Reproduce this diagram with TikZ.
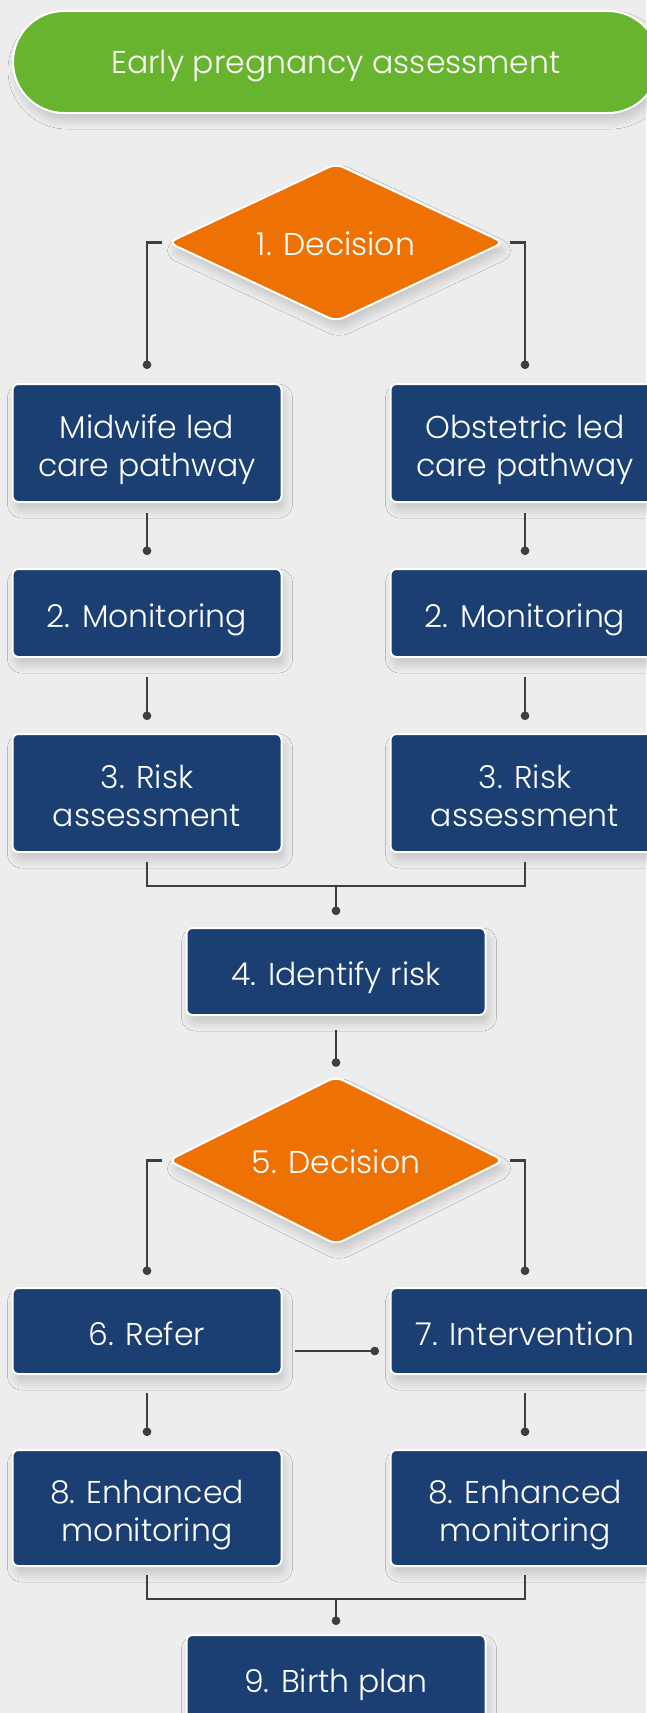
\documentclass[tikz,border=0pt]{standalone}
\usepackage{fontspec}
\IfFontExistsTF{Poppins Light}{\setmainfont{Poppins Light}}{\setmainfont{Poppins}}
\usetikzlibrary{shapes.geometric,arrows.meta,shadows.blur}
\definecolor{bg}{RGB}{237,237,237}
\definecolor{pgreen}{RGB}{104,180,47}
\definecolor{porange}{RGB}{238,114,3}
\definecolor{pblue}{RGB}{28,63,115}
\definecolor{pline}{RGB}{62,62,62}
\newcommand\tx[2][-13pt]{\smash{\raisebox{#1}{\begin{tabular}{@{}c@{}}#2\end{tabular}}}}
\newcommand\dtx[1]{\smash{\raisebox{-13pt}{#1}}}
\begin{document}
\begin{tikzpicture}[x=1pt,y=-1pt,
  every node/.style={font=\fontsize{31.5}{38}\selectfont, text=white, align=center},
  softshadow/.style={blur shadow={shadow xshift=3pt, shadow yshift=-8pt, shadow blur radius=8pt, shadow blur steps=10, shadow opacity=16}},
  box/.style={rectangle, draw=white, line width=2pt, fill=pblue, rounded corners=6pt, minimum width=269pt, inner sep=0pt, softshadow},
  midbox/.style={box, minimum width=299pt},
  dec/.style={diamond, draw=white, line width=2pt, fill=porange, rounded corners=8pt, minimum width=336pt, minimum height=154pt, inner sep=0pt, softshadow},
  pill/.style={rectangle, draw=white, line width=2pt, fill=pgreen, rounded corners=51pt, minimum width=646pt, minimum height=102pt, softshadow},
  conn/.style={draw=pline, line width=2.8pt},
  dot/.style={-{Circle[length=8.5pt,width=8.5pt]}}
]
\fill[bg] (0,0) rectangle (646,1713);
\useasboundingbox (0,0) rectangle (646,1713);

% nodes
\node[pill] (start) at (336,62) {\tx[-10pt]{Early pregnancy assessment}};
\node[dec] (d1) at (336,242.5) {\dtx{1. Decision}};
\node[box, minimum height=118pt] (m1) at (147,443) {\tx{Midwife led\\care pathway}};
\node[box, minimum height=118pt] (o1) at (525,443) {\tx{Obstetric led\\care pathway}};
\node[box, minimum height=88pt] (mon1) at (147,613) {\tx{2. Monitoring}};
\node[box, minimum height=88pt] (mon2) at (525,613) {\tx{2. Monitoring}};
\node[box, minimum height=118pt] (r1) at (147,793) {\tx{3. Risk\\assessment}};
\node[box, minimum height=118pt] (r2) at (525,793) {\tx{3. Risk\\assessment}};
\node[midbox, minimum height=87pt] (id) at (336,971.5) {\tx{4. Identify risk}};
\node[dec] (d5) at (336,1160.5) {\dtx{5. Decision}};
\node[box, minimum height=86pt] (ref) at (147,1331) {\tx{6. Refer}};
\node[box, minimum height=86pt] (int) at (525,1331) {\tx{7. Intervention}};
\node[box, minimum height=116pt] (e1) at (147,1508) {\tx{8. Enhanced\\monitoring}};
\node[box, minimum height=116pt] (e2) at (525,1508) {\tx{8. Enhanced\\monitoring}};
\node[midbox, minimum height=87pt] (bp) at (336,1678.5) {\tx{9. Birth plan}};

\coordinate (j1) at (336,886);
\coordinate (j2) at (336,1599);

% connectors
\draw[conn,dot] ([xshift=-5pt]d1.west) -| ([yshift=14pt]m1.north);
\draw[conn,dot] ([xshift=5pt]d1.east) -| ([yshift=14pt]o1.north);
\draw[conn,dot] ([yshift=-10pt]m1.south) -- ([yshift=13pt]mon1.north);
\draw[conn,dot] ([yshift=-10pt]o1.south) -- ([yshift=13pt]mon2.north);
\draw[conn,dot] ([yshift=-19pt]mon1.south) -- ([yshift=13pt]r1.north);
\draw[conn,dot] ([yshift=-19pt]mon2.south) -- ([yshift=13pt]r2.north);
\draw[conn] ([yshift=-9pt]r1.south) |- (j1) -| ([yshift=-9pt]r2.south);
\draw[conn,dot] (j1) -- ([yshift=12pt]id.north);
\draw[conn,dot] ([yshift=-14pt]id.south) -- ([yshift=8.5pt]d5.north);
\draw[conn,dot] ([xshift=-5pt]d5.west) -| ([yshift=12pt]ref.north);
\draw[conn,dot] ([xshift=5pt]d5.east) -| ([yshift=12pt]int.north);
\draw[conn,dot] ([shift={(12pt,-20pt)}]ref.east) -- ([shift={(-10.5pt,-20pt)}]int.west);
\draw[conn,dot] ([yshift=-18pt]ref.south) -- ([yshift=13pt]e1.north);
\draw[conn,dot] ([yshift=-18pt]int.south) -- ([yshift=13pt]e2.north);
\draw[conn] ([yshift=-8pt]e1.south) |- (j2) -| ([yshift=-8pt]e2.south);
\draw[conn,dot] (j2) -- ([yshift=9pt]bp.north);
\end{tikzpicture}
\end{document}
